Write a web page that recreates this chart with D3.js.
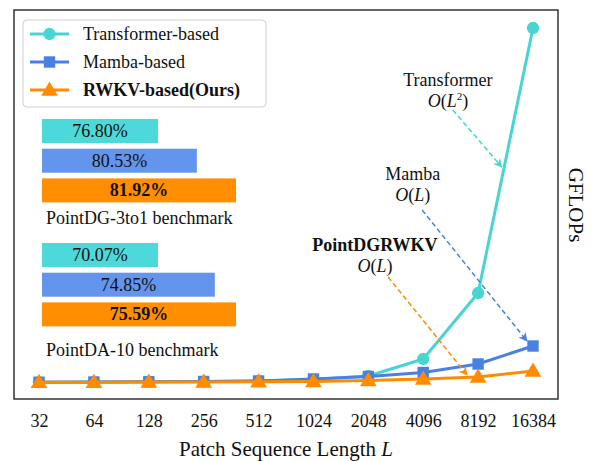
<!DOCTYPE html>
<html><head><meta charset="utf-8">
<script src="https://cdn.jsdelivr.net/npm/d3@7"></script>
<style>body{margin:0;background:#fff}svg{display:block}text{font-family:"Liberation Serif","Times New Roman",serif;fill:#111}</style>
</head><body><svg id="c" width="594" height="461"></svg>
<script>
// ---- data ----
const lengths = ["32","64","128","256","512","1024","2048","4096","8192","16384"];
const transformerGFLOPs = [3.5, 4, 4.5, 5, 6, 9, 16, 50, 182, 712];
const mambaGFLOPs       = [3.5, 4, 4.5, 5, 6, 10, 15, 23, 40, 76];
const rwkvGFLOPs        = [3.5, 3.5, 4, 4, 4.5, 5, 7, 10, 14, 26];
const seriesNames = ["Transformer-based", "Mamba-based", "RWKV-based(Ours)"];
const benchmarkNames = ["PointDG-3to1 benchmark", "PointDA-10 benchmark"];
const dgAccuracy = [76.80, 80.53, 81.92];
const daAccuracy = [70.07, 74.85, 75.59];

// ---- styles ----
const lineColors = ["#48D5D2", "#4A80E2", "#FF8C00"];
const barColors  = ["#4DD9D9", "#6495ED", "#FF8F00"];
const FS = "18px";

const svg = d3.select("#c");
const frame = {l:14, t:10, r:558, b:399};

const x = d3.scalePoint().domain(lengths).range([39, 533]);
const xi = d3.scaleLinear().domain([0, lengths.length-1]).range([39, 533]);
const y = d3.scaleLinear().domain([0, 720]).range([384, 24]);

// x axis tick labels (no tick lines)
const xAxis = d3.axisBottom(x).tickSize(0).tickPadding(0);
const gx = svg.append("g").attr("transform", `translate(0,${frame.b+15})`).call(xAxis);
gx.select(".domain").remove();
gx.selectAll("text").style("font-size",FS).style("font-family",'"Liberation Serif",serif').attr("fill","#111");

// axis titles
const xt = svg.append("text").attr("x", (frame.l+frame.r)/2).attr("y", 456)
  .attr("text-anchor","middle").style("font-size","21px");
xt.append("tspan").text("Patch Sequence Length ");
xt.append("tspan").style("font-style","italic").text("L");

svg.append("text").attr("transform", `translate(569,205) rotate(90)`)
  .attr("text-anchor","middle").style("font-size","21px").text("GFLOPs");

// series lines
const series = [transformerGFLOPs, mambaGFLOPs, rwkvGFLOPs];
const line = d3.line().x((d,i)=>x(lengths[i])).y(d=>y(d));
const symbols = [d3.symbolCircle, d3.symbolSquare, d3.symbolTriangle];
const symSizes = [120, 130, 120];

series.forEach((vals, s) => {
  svg.append("path").datum(vals).attr("d", line)
    .attr("fill","none").attr("stroke", lineColors[s]).attr("stroke-width", 3).attr("stroke-linejoin","round");
  svg.append("g").selectAll("path").data(vals).join("path")
    .attr("transform", (d,i)=>`translate(${x(lengths[i])},${y(d) + (s===2?1:0)})`)
    .attr("d", d3.symbol(symbols[s], symSizes[s])())
    .attr("fill", lineColors[s]);
});

// annotations (positions in data coordinates: [index, GFLOPs])
const annotations = [
  {lines:["Transformer","O(L²)"], at:[7.45, 596], from:[7.54, 548], to:[8.43, 434], color:lineColors[0], bold:false},
  {lines:["Mamba","O(L)"], at:[6.81, 408], from:[6.98, 348], to:[8.89, 86], color:lineColors[1], bold:false},
  {lines:["PointDGRWKV","O(L)"], at:[6.12, 266], from:[6.36, 214], to:[7.80, 18], color:lineColors[2], bold:true}
];
const defs = svg.append("defs");
annotations.forEach((a,k)=>{
  defs.append("marker").attr("id","ah"+k).attr("viewBox","0 0 10 10").attr("refX",9).attr("refY",5)
    .attr("markerWidth",9).attr("markerHeight",9).attr("markerUnits","userSpaceOnUse").attr("orient","auto")
    .append("path").attr("d","M0,0 L10,5 L0,10 L3,5 Z").attr("fill", a.color);
  svg.append("line").attr("x1", xi(a.from[0])).attr("y1", y(a.from[1]))
    .attr("x2", xi(a.to[0])).attr("y2", y(a.to[1]))
    .attr("stroke", a.color).attr("stroke-width",1.5).attr("stroke-dasharray","5,3")
    .attr("marker-end", `url(#ah${k})`);
  const cx = xi(a.at[0]), cy = y(a.at[1]);
  svg.append("text").attr("x",cx).attr("y",cy).attr("text-anchor","middle")
    .style("font-size",FS).style("font-weight", a.bold?"bold":"normal").text(a.lines[0]);
  const t2 = svg.append("text").attr("x",cx).attr("y",cy+21).attr("text-anchor","middle").style("font-size",FS);
  if (a.lines[1].includes("²")) {
    t2.append("tspan").style("font-style","italic").text("O");
    t2.append("tspan").text("(");
    t2.append("tspan").style("font-style","italic").text("L");
    t2.append("tspan").attr("dy",-7).style("font-size","11px").text("2");
    t2.append("tspan").attr("dy",7).text(")");
  } else {
    t2.append("tspan").style("font-style","italic").text("O");
    t2.append("tspan").text("(");
    t2.append("tspan").style("font-style","italic").text("L");
    t2.append("tspan").text(")");
  }
});

// benchmark bars
const groups = [dgAccuracy, daAccuracy];
const groupTop = [119, 243];
const barH = 24, barStep = 29.7, barX = 42;
groups.forEach((vals, g) => {
  const norm = d3.scaleLinear().domain(d3.extent(vals)).range([0,1]);
  const w = d3.scalePow().exponent(2.2).domain([0,1]).range([116, 194]);
  const gg = svg.append("g");
  vals.forEach((v,i)=>{
    const by = groupTop[g] + i*barStep;
    const bw = w(norm(v));
    gg.append("rect").attr("x",barX).attr("y",by).attr("width",bw).attr("height",barH).attr("fill",barColors[i]);
    gg.append("text").attr("x",barX+bw/2).attr("y",by+barH/2+6).attr("text-anchor","middle")
      .style("font-size",FS).style("font-weight", i===2?"bold":"normal").text(d3.format(".2f")(v)+"%");
  });
  svg.append("text").attr("x",46).attr("y",groupTop[g]+105 + (g===1?8:0)).style("font-size",FS).text(benchmarkNames[g]);
});

// legend
const lg = svg.append("g");
lg.append("rect").attr("x",23).attr("y",20).attr("width",243).attr("height",87).attr("rx",4)
  .attr("fill","#fff").attr("stroke","#d0d0d0").attr("stroke-width",1);
seriesNames.forEach((n,s)=>{
  const ly = 34 + s*28;
  lg.append("line").attr("x1",30).attr("x2",69).attr("y1",ly).attr("y2",ly).attr("stroke",lineColors[s]).attr("stroke-width",3);
  lg.append("path").attr("transform",`translate(49.5,${ly + (s===2?1:0)})`).attr("d", d3.symbol(symbols[s], symSizes[s])()).attr("fill",lineColors[s]);
  lg.append("text").attr("x",83).attr("y",ly+6).style("font-size",FS).style("font-weight", s===2?"bold":"normal").text(n);
});

// frame
svg.append("rect").attr("x",frame.l).attr("y",frame.t).attr("width",frame.r-frame.l).attr("height",frame.b-frame.t)
  .attr("fill","none").attr("stroke","#333").attr("stroke-width",1.5);
</script></body></html>
